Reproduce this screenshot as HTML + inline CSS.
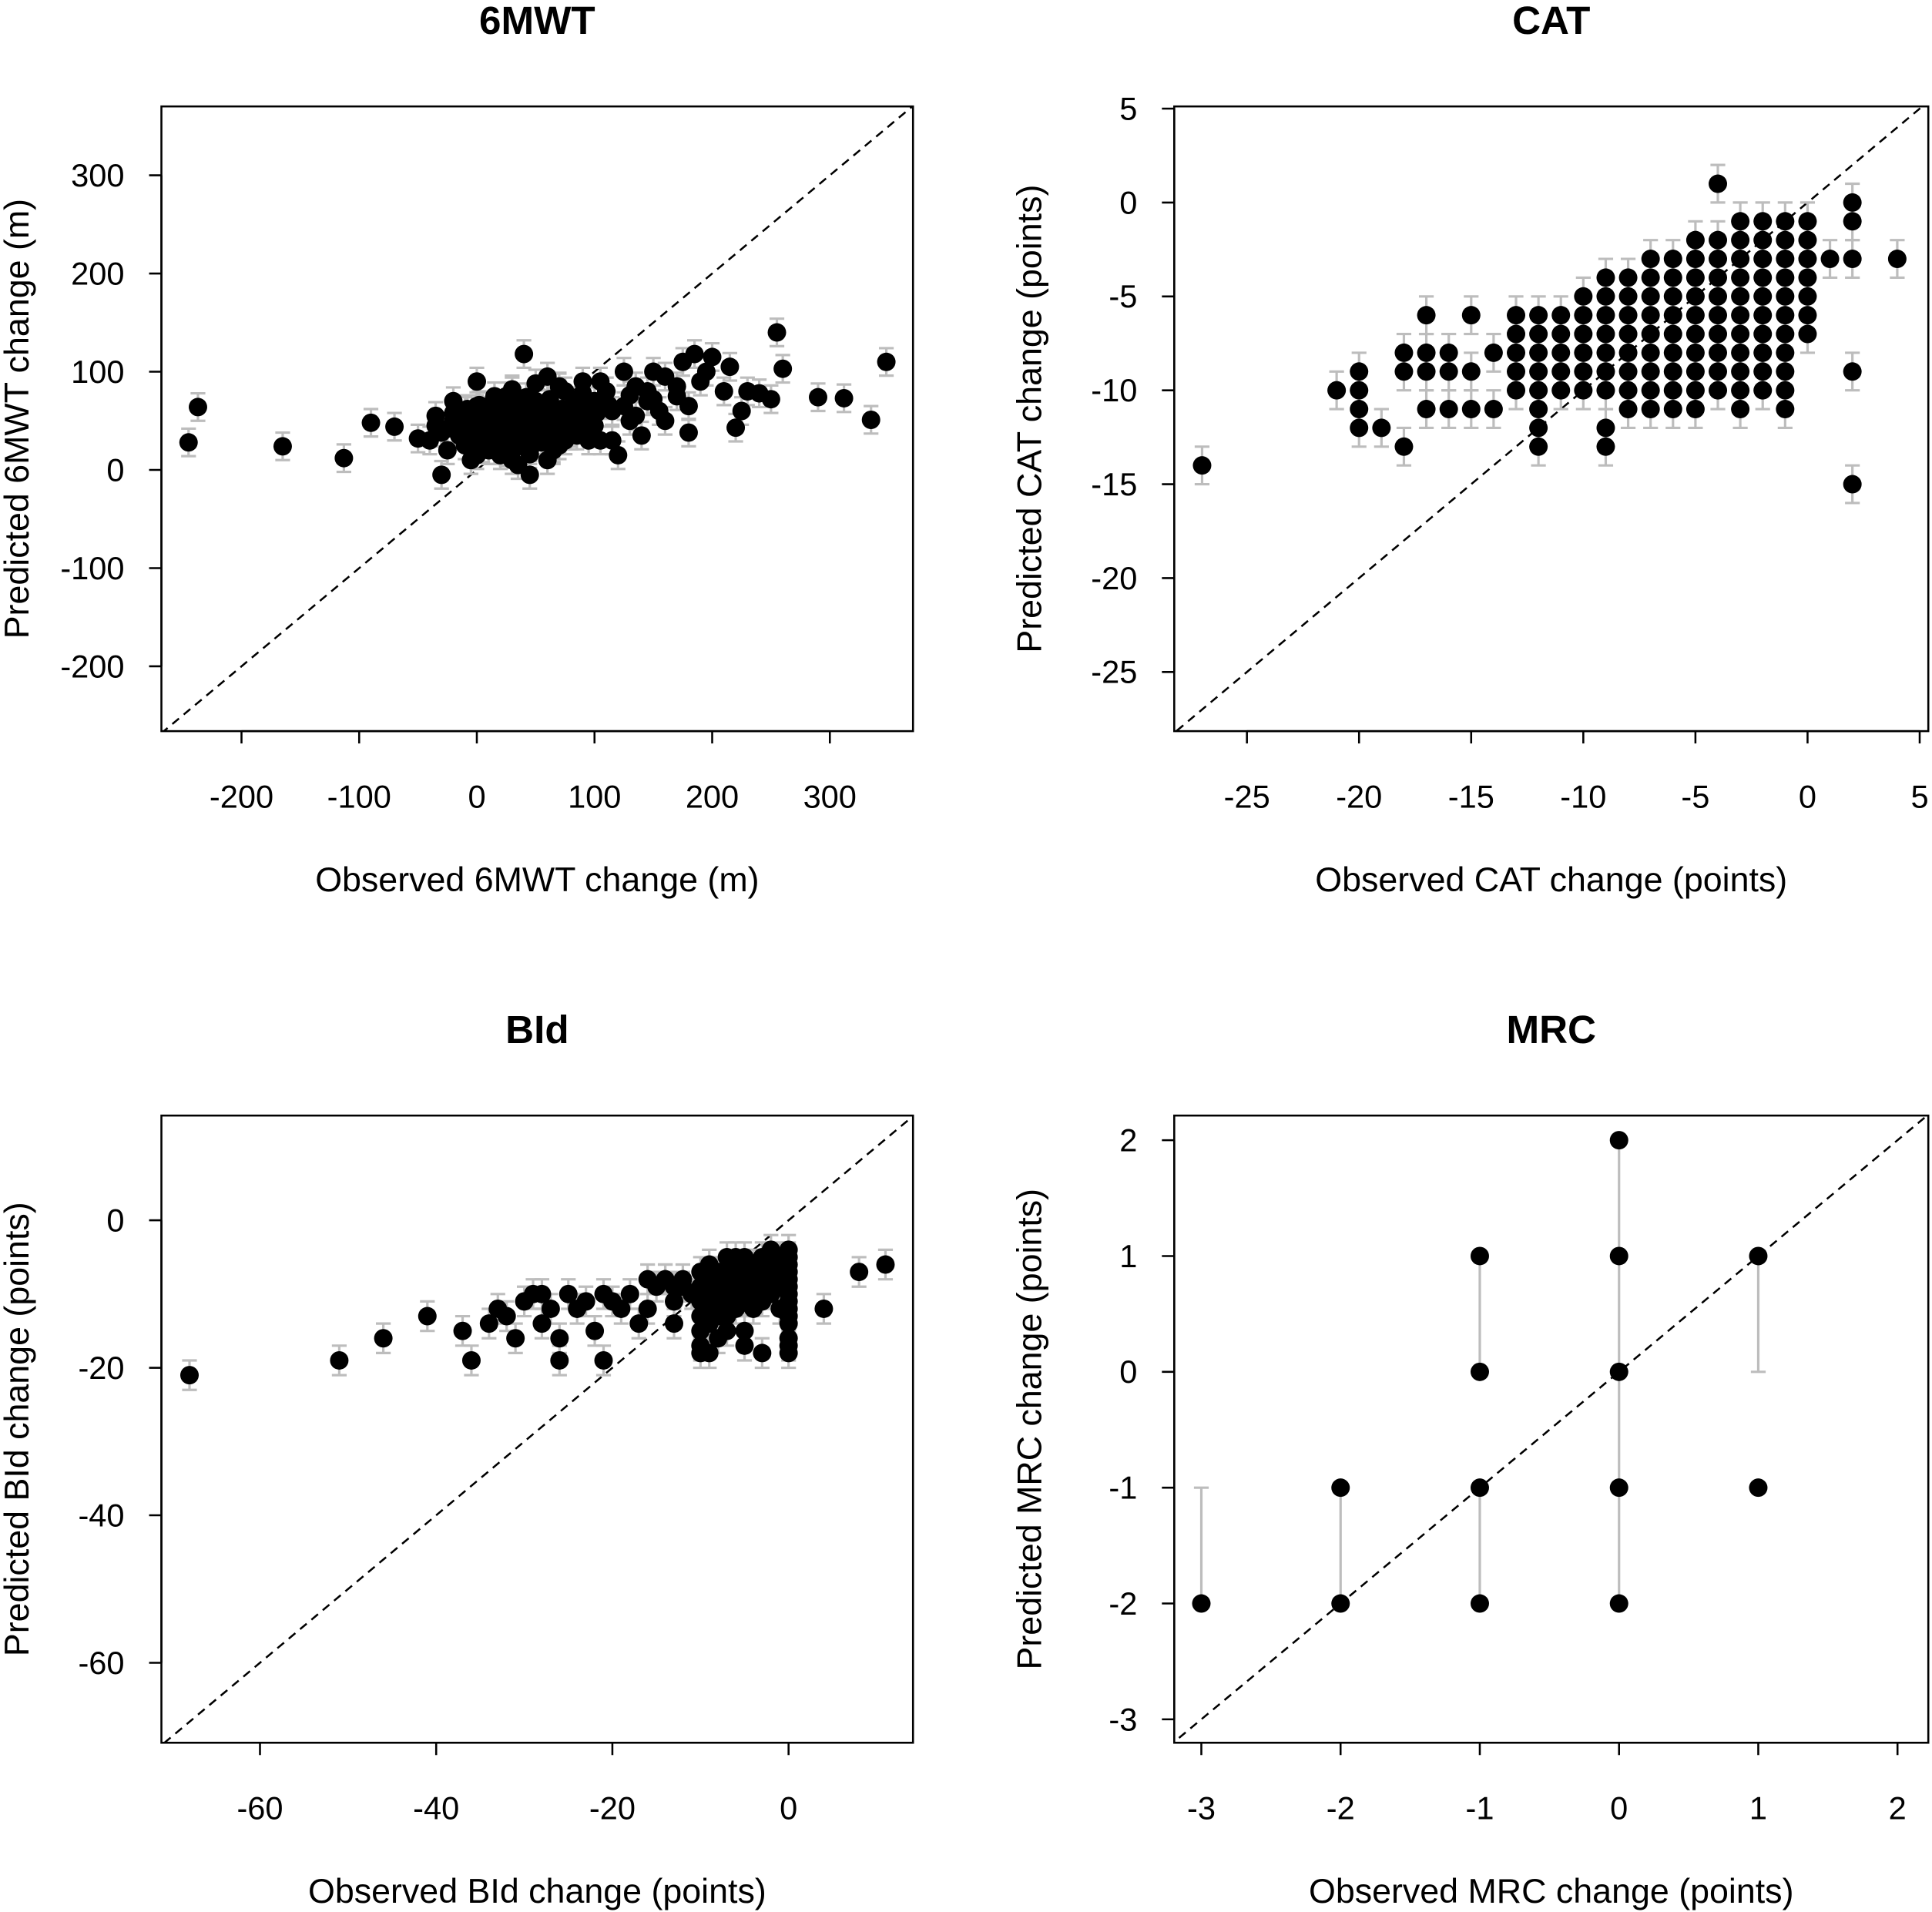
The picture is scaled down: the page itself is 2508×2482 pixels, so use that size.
<!DOCTYPE html>
<html><head><meta charset="utf-8"><style>
html,body{margin:0;padding:0;background:#fff;width:2508px;height:2482px;overflow:hidden;}
svg{display:block;font-family:"Liberation Sans",Arial,sans-serif;}
</style></head><body>
<svg id="fig" width="2508" height="2482" viewBox="0 0 1568 1551" xmlns="http://www.w3.org/2000/svg"></svg>
<script>
// ---- 6MWT data ----
const mwtObs = [-245,-237,-165,-113,-90,-70,-50,-40,-35,-30,-25,-20,-15,-10,-5,0,0,5,10,15,20,25,30,35,40,40,45,50,55,60,65,70,75,80,85,90,95,100,105,110,115,120,125,130,135,140,145,150,155,160,170,175,180,185,190,200,210,220,215,225,230,240,250,255,260,290,312,335,348,
 -35,-30,-20,-10,-5,0,5,10,15,20,25,30,35,40,45,50,55,60,65,70,75,80,85,90,95,100,10,20,30,40,50,60,70,80,-15,0,15,25,35,45,55,65,75,85,95,105,115,125,135,145,160,170,180,195,
 -25,-12,-2,8,18,28,38,48,58,68,78,88,98,-20,-8,2,12,22,32,42,52,62,72,82,92,102,112,5,15,25,35,45,55,65,75,30,50,70,90,110,130,150];
const mwtPred = [28,64,24,12,48,44,32,30,55,-5,20,70,40,60,10,30,90,50,20,75,40,60,10,50,118,30,-5,70,45,95,20,55,80,35,65,90,50,70,30,80,60,15,100,50,85,35,70,100,60,95,75,110,38,118,90,115,80,43,105,60,80,78,72,140,103,74,73,51,110,
 45,38,50,25,55,15,35,45,30,55,25,45,65,40,20,55,30,60,40,25,60,45,35,75,30,45,65,15,80,55,70,10,85,50,35,65,20,75,5,60,40,25,50,70,45,90,30,65,55,80,50,85,65,100,
 42,48,38,32,44,36,28,40,50,46,38,52,58,58,62,66,60,64,70,74,68,72,62,66,60,58,66,22,26,18,24,16,28,22,30,82,88,84,78,80,76,72];
const mwtErr = 14;
// ---- CAT data ----
const catObs = [-27,-21,-20,-20,-20,-20,-19,-18,-18,-18,-17,-17,-17,-17,-16,-16,-16,-15,-15,-15,-14,-14,
 -13,-13,-13,-13,-13,-12,-12,-12,-12,-12,-12,-12,-12,-11,-11,-11,-11,-11,-10,-10,-10,-10,-10,-10,
 -9,-9,-9,-9,-9,-9,-9,-9,-9,-8,-8,-8,-8,-8,-8,-8,-8,-7,-7,-7,-7,-7,-7,-7,-7,-7,
 -6,-6,-6,-6,-6,-6,-6,-6,-6,-5,-5,-5,-5,-5,-5,-5,-5,-5,-5,-4,-4,-4,-4,-4,-4,-4,-4,-4,-4,
 -3,-3,-3,-3,-3,-3,-3,-3,-3,-3,-3,-2,-2,-2,-2,-2,-2,-2,-2,-2,-2,-1,-1,-1,-1,-1,-1,-1,-1,-1,-1,-1,
 0,0,0,0,0,0,0,1,2,2,2,2,2,4];
const catPred = [-14,-10,-9,-10,-11,-12,-12,-8,-9,-13,-6,-8,-9,-11,-8,-9,-11,-6,-9,-11,-8,-11,
 -6,-7,-8,-9,-10,-6,-7,-8,-9,-10,-11,-12,-13,-6,-7,-8,-9,-10,-5,-6,-7,-8,-9,-10,
 -4,-5,-6,-7,-8,-9,-10,-12,-13,-4,-5,-6,-7,-8,-9,-10,-11,-3,-4,-5,-6,-7,-8,-9,-10,-11,
 -3,-4,-5,-6,-7,-8,-9,-10,-11,-2,-3,-4,-5,-6,-7,-8,-9,-10,-11,1,-2,-3,-4,-5,-6,-7,-8,-9,-10,
 -1,-2,-3,-4,-5,-6,-7,-8,-9,-10,-11,-1,-2,-3,-4,-5,-6,-7,-8,-9,-10,-1,-2,-3,-4,-5,-6,-7,-8,-9,-10,-11,
 -1,-2,-3,-4,-5,-6,-7,-3,0,-1,-3,-9,-15,-3];
const catErr = 1;
// ---- BId data ----
const bidObs = [-68,-51,-46,-41,-37,-36,-34,-33,-32,-31,-30,-29,-28,-28,-27,-26,-26,-25,-24,-23,-22,-21,-21,-20,-19,-18,-17,-16,-15,-14,-13,-13,-12,-11,
 -10,-10,-10,-10,-10,-10,-10,-9,-9,-9,-9,-9,-9,-8,-8,-8,-8,-8,-7,-7,-7,-7,-7,-7,-6,-6,-6,-6,-6,-5,-5,-5,-5,-5,-5,-4,-4,-4,-4,-3,-3,-3,-3,-3,-2,-2,-2,-2,-1,-1,-1,-1,
 0,0,0,0,0,0,0,0,0,0,0,0,0,0,-16,-14,-12,-13,4,8,11];
const bidPred = [-21,-19,-16,-13,-15,-19,-14,-12,-13,-16,-11,-10,-10,-14,-12,-16,-19,-10,-12,-11,-15,-10,-19,-11,-12,-10,-14,-12,-9,-8,-11,-14,-8,-10,
 -7,-9,-11,-13,-15,-17,-18,-6,-8,-10,-12,-14,-18,-7,-9,-11,-13,-16,-5,-7,-9,-11,-13,-15,-5,-7,-9,-11,-12,-5,-7,-9,-11,-15,-17,-6,-8,-10,-12,-5,-7,-9,-11,-18,-4,-6,-8,-10,-5,-7,-9,-12,
 -4,-5,-6,-7,-8,-9,-10,-11,-12,-13,-14,-16,-17,-18,-8,-8,-9,-9,-12,-7,-6];
const bidErr = 2;
// ---- MRC data ----
const mrcObs = [-3,-2,-2,-1,-1,-1,-1,0,0,0,0,0,1,1];
const mrcPred = [-2,-1,-2,1,0,-1,-2,2,1,0,-1,-2,1,-1];
const mrcBarX = [-3,-2,-1,-1,0,1];
const mrcBarLo = [-2,-2,0,-2,-2,0];
const mrcBarHi = [-1,-1,1,-1,2,1];

const svg=document.getElementById('fig');
const NS='http://www.w3.org/2000/svg';
function el(tag,attrs,parent){const e=document.createElementNS(NS,tag);for(const k in attrs)e.setAttribute(k,attrs[k]);(parent||svg).appendChild(e);return e;}
function txt(s,attrs,parent){const e=el('text',attrs,parent);e.textContent=s;return e;}

function panel(cfg){
  const g=el('g',{});
  
  
  const {x0,x1,y0,y1}=cfg.box;
  const sx=v=>cfg.xa[0]+(v-cfg.xa[1])*cfg.xa[2];
  const sy=v=>cfg.ya[0]-(v-cfg.ya[1])*cfg.ya[2];
  const cid='clip-'+cfg.id;
  const cp=el('clipPath',{id:cid},g);el('rect',{x:x0,y:y0,width:x1-x0,height:y1-y0},cp);
  const dmin=Math.min((x0-cfg.xa[0])/cfg.xa[2]+cfg.xa[1],(cfg.ya[0]-y1)/cfg.ya[2]+cfg.ya[1])-10;
  const dmax=Math.max((x1-cfg.xa[0])/cfg.xa[2]+cfg.xa[1],(cfg.ya[0]-y0)/cfg.ya[2]+cfg.ya[1])+10;
  const d=el('line',{x1:sx(dmin),y1:sy(dmin),x2:sx(dmax),y2:sy(dmax),stroke:'#000','stroke-width':1.6,'stroke-dasharray':'7,5','clip-path':`url(#${cid})`},g);
  
  
  const eg=el('g',{stroke:'#bdbdbd','stroke-width':2,'clip-path':`url(#${cid})`},g);
  
  
  for(let i=0;i<cfg.barX.length;i++){
    const x=sx(cfg.barX[i]),a=sy(cfg.barLo[i]),b=sy(cfg.barHi[i]);
    el('line',{x1:x,y1:a,x2:x,y2:b},eg);
    el('line',{x1:x-6,y1:a,x2:x+6,y2:a},eg);
    el('line',{x1:x-6,y1:b,x2:x+6,y2:b},eg);
  }
  const pg=el('g',{fill:'#000'},g);
  
  
  for(let i=0;i<cfg.obs.length;i++){
    const c=el('circle',{cx:sx(cfg.obs[i]),cy:sy(cfg.pred[i]),r:7.5},pg);
    
    
  }
  const fr=el('rect',{x:x0,y:y0,width:x1-x0,height:y1-y0,fill:'none',stroke:'#000','stroke-width':1.6},g);
  
  
  const xt=cfg.xticks;
  el('line',{x1:sx(xt[0]),y1:y1,x2:sx(xt[xt.length-1]),y2:y1,stroke:'#000','stroke-width':1.6},g);
  xt.forEach(v=>{el('line',{x1:sx(v),y1:y1,x2:sx(v),y2:y1+10,stroke:'#000','stroke-width':1.6},g);
    const t=txt(String(v),{x:sx(v),y:y1+62,'font-size':26,'text-anchor':'middle'},g);
    
    });
  const yt=cfg.yticks;
  el('line',{x1:x0,y1:sy(yt[0]),x2:x0,y2:sy(yt[yt.length-1]),stroke:'#000','stroke-width':1.6},g);
  yt.forEach(v=>{el('line',{x1:x0,y1:sy(v),x2:x0-10,y2:sy(v),stroke:'#000','stroke-width':1.6},g);
    const t=txt(String(v),{x:x0-30,y:sy(v)+9,'font-size':26,'text-anchor':'end'},g);
    
    });
  const cx=(x0+x1)/2;
  const ti=txt(cfg.title,{x:cx,y:y0-59,'font-size':32,'font-weight':'bold','text-anchor':'middle'},g);
  
  
  const xl=txt(cfg.xlabel,{x:cx,y:y1+130,'font-size':28,'text-anchor':'middle'},g);
  
  
  const yc=(y0+y1)/2;
  const yl=txt(cfg.ylabel,{x:0,y:0,'font-size':28,'text-anchor':'middle',transform:`translate(${x0-108},${yc}) rotate(-90)`},g);
  
  
}
function errs(obs,pred,e){return {barX:obs,barLo:pred.map(p=>p-e),barHi:pred.map(p=>p+e)};}

panel(Object.assign({id:'6mwt',title:'6MWT',xlabel:'Observed 6MWT change (m)',ylabel:'Predicted 6MWT change (m)',
  box:{x0:131,x1:741,y0:86,y1:593},xa:[387,0,0.955],ya:[381,0,0.797],
  xticks:[-200,-100,0,100,200,300],yticks:[-200,-100,0,100,200,300],obs:mwtObs,pred:mwtPred},errs(mwtObs,mwtPred,mwtErr)));
panel(Object.assign({id:'cat',title:'CAT',xlabel:'Observed CAT change (points)',ylabel:'Predicted CAT change (points)',
  box:{x0:953,x1:1565,y0:86,y1:593},xa:[1467,0,18.2],ya:[164,0,15.24],
  xticks:[-25,-20,-15,-10,-5,0,5],yticks:[-25,-20,-15,-10,-5,0,5],obs:catObs,pred:catPred},errs(catObs,catPred,catErr)));
panel(Object.assign({id:'bid',title:'BId',xlabel:'Observed BId change (points)',ylabel:'Predicted BId change (points)',
  box:{x0:131,x1:741,y0:905,y1:1414},xa:[640,0,7.15],ya:[990,0,5.985],
  xticks:[-60,-40,-20,0],yticks:[-60,-40,-20,0],obs:bidObs,pred:bidPred},errs(bidObs,bidPred,bidErr)));
panel({id:'mrc',title:'MRC',xlabel:'Observed MRC change (points)',ylabel:'Predicted MRC change (points)',
  box:{x0:953,x1:1565,y0:905,y1:1414},xa:[1314,0,113],ya:[1113,0,94],
  xticks:[-3,-2,-1,0,1,2],yticks:[-3,-2,-1,0,1,2],obs:mrcObs,pred:mrcPred,barX:mrcBarX,barLo:mrcBarLo,barHi:mrcBarHi});
</script>
</body></html>
